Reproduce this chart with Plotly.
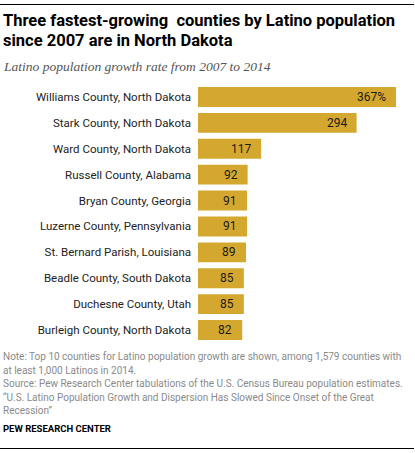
import plotly.graph_objects as go

counties = [
    "Williams County, North Dakota",
    "Stark County, North Dakota",
    "Ward County, North Dakota",
    "Russell County, Alabama",
    "Bryan County, Georgia",
    "Luzerne County, Pennsylvania",
    "St. Bernard Parish, Louisiana",
    "Beadle County, South Dakota",
    "Duchesne County, Utah",
    "Burleigh County, North Dakota",
]
growth = [367, 294, 117, 92, 91, 91, 89, 85, 85, 82]
value_labels = [f"{v}%" if i == 0 else str(v) for i, v in enumerate(growth)]

title_lines = [
    "Three fastest-growing  counties by Latino population",
    "since 2007 are in North Dakota",
]
subtitle = "Latino population growth rate from 2007 to 2014"
note_lines = [
    "Note: Top 10 counties for Latino population growth are shown, among 1,579 counties with",
    "at least 1,000 Latinos in 2014.",
    "Source: Pew Research Center tabulations of the U.S. Census Bureau population estimates.",
    "\u201cU.S. Latino Population Growth and Dispersion Has Slowed Since Onset of the Great",
    "Recession\u201d",
]
credit = "PEW RESEARCH CENTER"

W, H = 415, 453
L, R, T, B = 198, 2, 84, 110
PW, PH = W - L - R, H - T - B

def px_x(px):
    return (px - L) / PW

def px_y(py):
    return (H - B - py) / PH

BAR = "#D4A82F"

fig = go.Figure(go.Bar(
    x=growth, y=counties, orientation="h",
    marker=dict(color=BAR, line=dict(width=0)),
    hoverinfo="skip",
))

ann = []
for c, v, t in zip(counties, growth, value_labels):
    ann.append(dict(x=v, y=c, xref="x", yref="y", text=t, showarrow=False,
                    xanchor="right", yanchor="middle", xshift=-8, yshift=0,
                    font=dict(family="Roboto", size=12, color="#1a1a1a")))

for i, line in enumerate(title_lines):
    ann.append(dict(x=px_x(1), y=px_y(32 + 20 * i), xref="paper", yref="paper",
                    text=f"<b>{line}</b>", showarrow=False, xanchor="left", yanchor="bottom",
                    font=dict(family="Roboto", size=16.5, color="#000000")))
ann.append(dict(x=px_x(1), y=px_y(76), xref="paper", yref="paper",
                text=f"<i>{subtitle}</i>", showarrow=False, xanchor="left", yanchor="bottom",
                font=dict(family="Liberation Serif", size=13.5, color="#555555")))
for i, line in enumerate(note_lines):
    ann.append(dict(x=px_x(1), y=px_y(364 + 13.5 * i), xref="paper", yref="paper",
                    text=line, showarrow=False, xanchor="left", yanchor="bottom",
                    font=dict(family="Roboto", size=10, color="#8a8a8a")))
ann.append(dict(x=px_x(1), y=px_y(436), xref="paper", yref="paper",
                text=f"<b>{credit}</b>", showarrow=False, xanchor="left", yanchor="bottom",
                font=dict(family="Roboto", size=9.5, color="#000000")))

shapes = [
    dict(type="line", xref="paper", yref="paper", x0=px_x(0), x1=px_x(414),
         y0=px_y(4.5), y1=px_y(4.5), line=dict(color="#000000", width=1)),
    dict(type="line", xref="paper", yref="paper", x0=px_x(0), x1=px_x(414),
         y0=px_y(448.5), y1=px_y(448.5), line=dict(color="#000000", width=1)),
]

fig.update_layout(
    width=W, height=H,
    margin=dict(l=L, r=R, t=T, b=B, pad=0),
    paper_bgcolor="white", plot_bgcolor="white",
    bargap=0.23,
    showlegend=False,
    annotations=ann,
    shapes=shapes,
    xaxis=dict(range=[0, PW / (198 / 367)], visible=False, fixedrange=True),
    yaxis=dict(autorange="reversed", showgrid=False, zeroline=False, showline=False,
               ticks="", ticklabelstandoff=6,
               tickfont=dict(family="Roboto", size=11.5, color="#222222"), fixedrange=True),
)

fig.write_html("out.html", config={"displayModeBar": False})
